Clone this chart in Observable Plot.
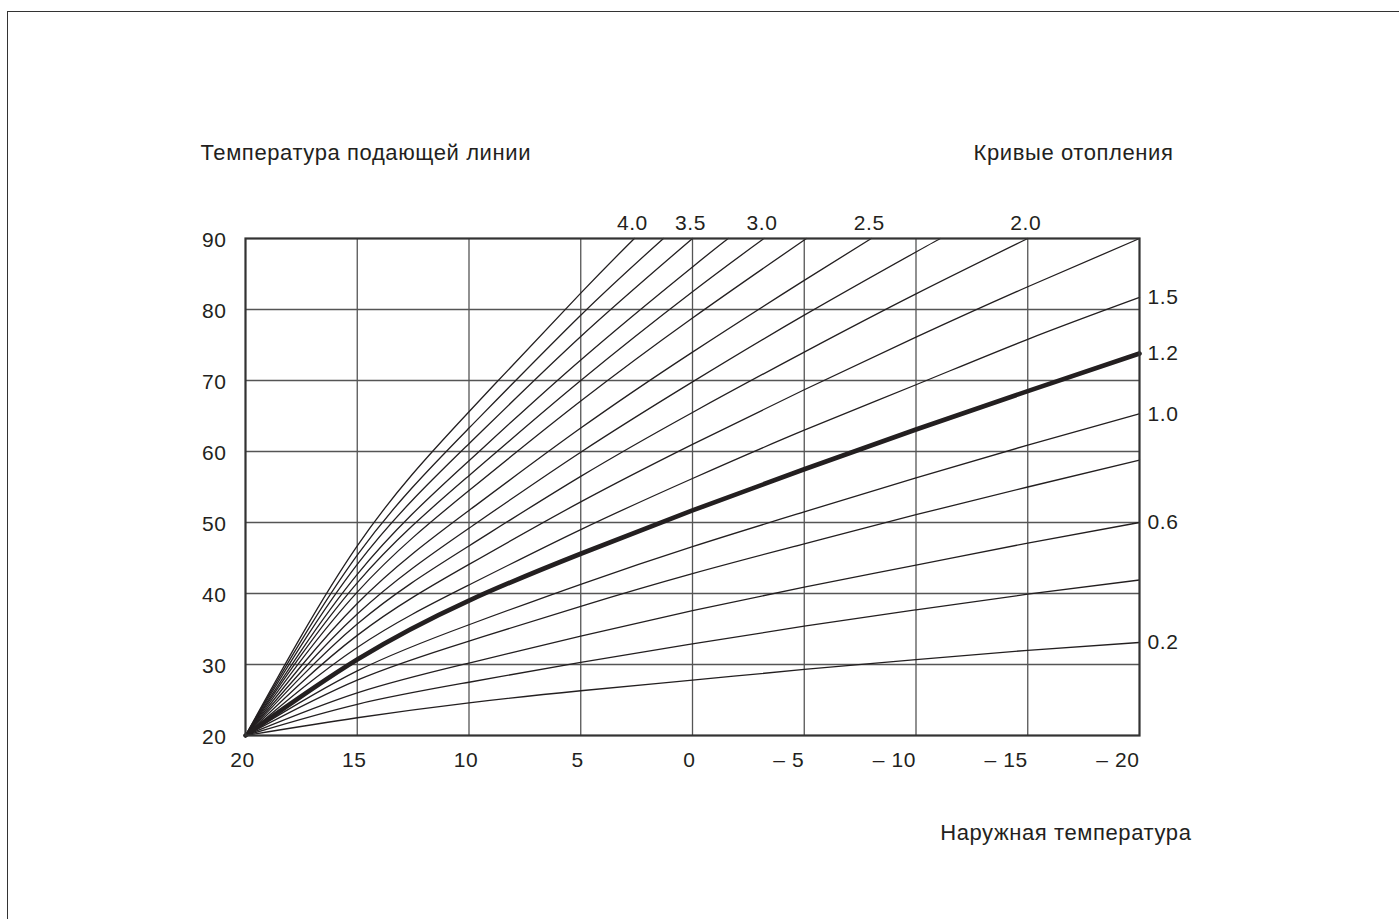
<!DOCTYPE html>
<html>
<head>
<meta charset="utf-8">
<script src="https://cdn.jsdelivr.net/npm/d3@7"></script>
<script src="https://cdn.jsdelivr.net/npm/@observablehq/plot@0.6"></script>
<style>
  html, body { margin: 0; padding: 0; background: #fff; }
  #wrap { position: relative; width: 1399px; height: 919px; overflow: hidden; }
  #border { position: absolute; left: 7px; top: 11px; width: 1420px; height: 940px;
            border-top: 1.5px solid #333; border-left: 1.5px solid #333; box-sizing: border-box; }
  #chart { position: absolute; left: 0; top: 0; }
</style>
</head>
<body>
<div id="wrap"><div id="border"></div><div id="chart"></div></div>
<script>
// Outdoor temperatures (x) at which curve values were read
const outdoor = [20, 15, 10, 5, 0, -5, -10, -15, -20];
const xTicks = [20, 15, 10, 5, 0, -5, -10, -15, -20];
const yTicks = [20, 30, 40, 50, 60, 70, 80, 90];

// Heating curve identifiers ("" = unlabeled intermediate curve)
const curveIds = ["0.2","0.4","0.6","0.8","1.0","1.2","1.5","1.75","2.0","2.25","2.5","2.75","3.0","3.25","3.5","3.75","4.0"];
const curveLabels = ["0.2","","0.6","","1.0","1.2","1.5","","2.0","","2.5","","3.0","","3.5","","4.0"];

// Flow temperature read at the outdoor temperatures above
const flow_0_2  = [20, 22.5, 24.6, 26.3, 27.8, 29.3, 30.7, 32.0, 33.1];
const flow_0_4  = [20, 24.4, 27.5, 30.3, 32.9, 35.4, 37.7, 39.9, 41.9];
const flow_0_6  = [20, 26.0, 30.2, 34.0, 37.6, 40.9, 44.0, 47.1, 50.0];
const flow_0_8  = [20, 27.8, 33.3, 38.2, 42.8, 47.0, 51.1, 55.0, 58.8];
const flow_1_0  = [20, 29.1, 35.6, 41.3, 46.6, 51.5, 56.3, 60.9, 65.3];
const flow_1_2  = [20, 30.7, 39.0, 45.6, 51.7, 57.5, 63.1, 68.5, 73.8];
const flow_1_5  = [20, 32.4, 41.2, 49.0, 56.2, 63.0, 69.4, 75.8, 81.7];
const flow_1_75 = [20, 34.1, 44.1, 52.9, 61.0, 68.7, 76.1, 83.2, 90.0];
const flow_2_0  = [20, 35.7, 46.7, 56.5, 65.5, 74.0, 82.2, 90.0];
const flow_2_25 = [20, 37.1, 49.2, 59.9, 69.8, 79.2, 88.1];
const flow_2_5  = [20, 38.6, 51.7, 63.3, 74.0, 84.1];
const flow_2_75 = [20, 40.2, 54.5, 67.1, 78.8];
const flow_3_0  = [20, 41.5, 56.6, 70.0, 82.5];
const flow_3_25 = [20, 42.7, 58.7, 72.9, 86.0];
const flow_3_5  = [20, 44.1, 61.1, 76.2, 90.0];
const flow_3_75 = [20, 45.4, 63.3, 79.2];
const flow_4_0  = [20, 46.7, 65.6, 82.3];

// Outdoor temperature where a curve leaves the top of the chart (flow 90), null if none
const exitOutdoor = [null, null, null, null, null, null, null, null, null, -11.1, -8.0, -5.1, -3.2, -1.6, null, 1.3, 2.6];
const topFlow = 90;
const boldCurve = "1.2";

const flows = [flow_0_2, flow_0_4, flow_0_6, flow_0_8, flow_1_0, flow_1_2, flow_1_5, flow_1_75,
               flow_2_0, flow_2_25, flow_2_5, flow_2_75, flow_3_0, flow_3_25, flow_3_5, flow_3_75, flow_4_0];

const rows = [];
const ends = [];
flows.forEach((vals, i) => {
  const id = curveIds[i];
  vals.forEach((v, j) => rows.push({curve: id, x: outdoor[j], y: v}));
  if (exitOutdoor[i] !== null) rows.push({curve: id, x: exitOutdoor[i], y: topFlow});
  const last = rows[rows.length - 1];
  ends.push({curve: id, label: curveLabels[i], x: last.x, y: last.y});
});

const topLabels = ends.filter(d => d.label && d.y >= topFlow && d.x > -20);
const rightLabels = ends.filter(d => d.label && d.x === -20);

const fmtX = d => d < 0 ? "\u2013 " + Math.abs(d) : String(d);
const ink = "#231f20";
const font = "'Liberation Sans', Arial, Helvetica, sans-serif";

const chart = Plot.plot({
  width: 1399,
  height: 919,
  marginLeft: 245,
  marginRight: 260,
  marginTop: 238,
  marginBottom: 184,
  x: {domain: [20, -20], axis: null},
  y: {domain: [20, 90], axis: null},
  style: {fontFamily: font, fontSize: "21px", letterSpacing: "0.6px", color: ink, background: "transparent"},
  marks: [
    Plot.gridX(xTicks.slice(1, -1), {stroke: "#555", strokeOpacity: 1, strokeWidth: 1.3}),
    Plot.gridY(yTicks.slice(1, -1), {stroke: "#555", strokeOpacity: 1, strokeWidth: 1.3}),
    Plot.line(rows.filter(d => d.curve !== boldCurve), {x: "x", y: "y", z: "curve", curve: "natural", stroke: ink, strokeWidth: 1.3}),
    Plot.line(rows.filter(d => d.curve === boldCurve), {x: "x", y: "y", curve: "natural", stroke: ink, strokeWidth: 4.6}),
    Plot.frame({stroke: "#333", strokeWidth: 2.2}),
    // y tick labels
    Plot.text(yTicks, {x: 20, y: d => d, text: d => String(d), textAnchor: "end", dx: -19, dy: 2, fill: ink}),
    // x tick labels
    Plot.text(xTicks.filter(d => d >= 0), {x: d => d, y: 20, text: fmtX, dy: 25, dx: -3, fill: ink}),
    Plot.text(xTicks.filter(d => d < 0), {x: d => d, y: 20, text: fmtX, dy: 25, textAnchor: "end", fill: ink}),
    // curve labels
    Plot.text(topLabels, {x: "x", y: "y", text: "label", dy: -15, dx: -2, fill: ink}),
    Plot.text(rightLabels, {x: "x", y: "y", text: "label", dx: 8, textAnchor: "start", fill: ink}),
    // titles
    Plot.text(["Температура подающей линии"], {frameAnchor: "top-left", dx: -45, dy: -94, textAnchor: "start", fontSize: 22, fill: ink}),
    Plot.text(["Кривые отопления"], {frameAnchor: "top-right", dx: 34, dy: -94, textAnchor: "end", fontSize: 22, fill: ink}),
    Plot.text(["Наружная температура"], {frameAnchor: "bottom-right", dx: 52, dy: 104, textAnchor: "end", fontSize: 22, fill: ink})
  ]
});
document.getElementById("chart").appendChild(chart);
</script>
</body>
</html>
